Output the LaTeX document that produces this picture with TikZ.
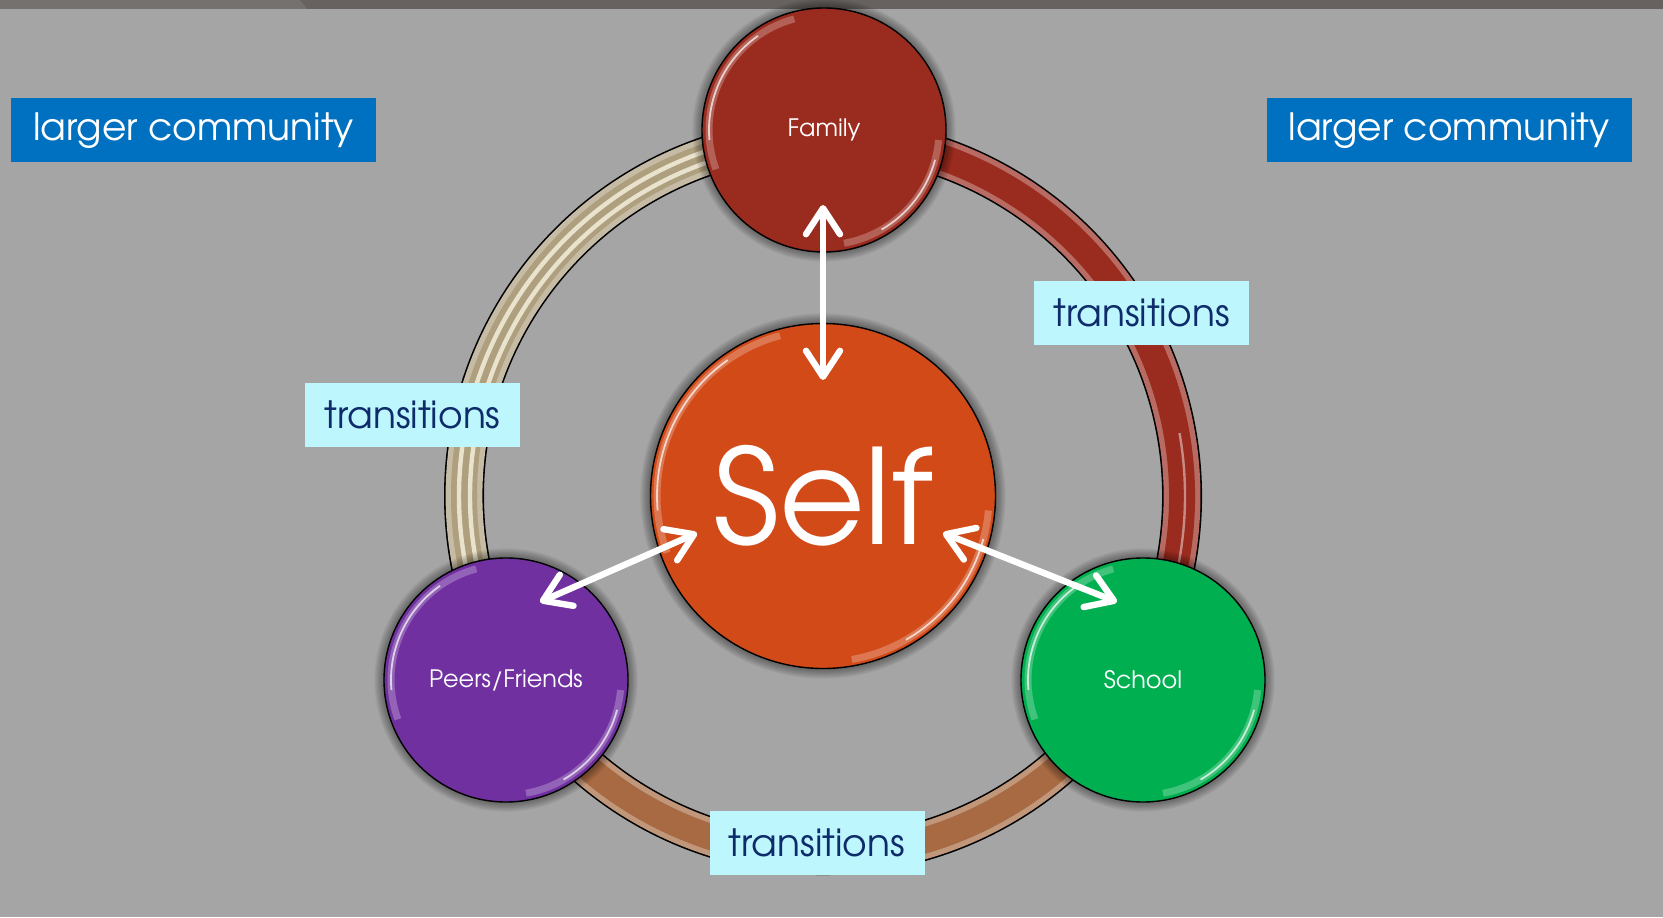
\documentclass[tikz,border=0pt]{standalone}
\usepackage{fontspec}
\setmainfont{TeX Gyre Adventor}
\usetikzlibrary{arrows.meta}
\definecolor{slate}{HTML}{A5A5A5}
\definecolor{bar}{HTML}{67625F}
\definecolor{barhi}{HTML}{75716F}
\definecolor{famred}{HTML}{9A2B1F}
\definecolor{selforange}{HTML}{D14A17}
\definecolor{peerpurple}{HTML}{7030A0}
\definecolor{schoolgreen}{HTML}{00B050}
\definecolor{tan}{HTML}{AE9F7E}
\definecolor{tanhi}{HTML}{E9E2CC}
\definecolor{copper}{HTML}{A76A43}
\definecolor{commblue}{HTML}{0070C0}
\definecolor{transcyan}{HTML}{BDF7FD}
\definecolor{navy}{HTML}{0F2C6A}
\tikzset{>={Straight Barb[length=13pt,width=17pt,round]},
  disc/.style={circle,draw=black,line width=.7pt,text=white,inner sep=0pt},
  hub/.style={disc,minimum size=122pt,font=\fontsize{12}{14}\selectfont},
  link/.style={<->,white,line width=3.2pt},
  community/.style={fill=commblue,text=white,minimum width=182.5pt,minimum height=32pt,font=\fontsize{18.8}{22}\selectfont},
  trans/.style={fill=transcyan,text=navy,minimum width=107.5pt,minimum height=32pt,font=\fontsize{18.8}{22}\selectfont}}
% soft dark halo under a disc
\newcommand{\halo}[2]{\foreach \k in {1,...,8}{\fill[black,opacity=.05] (#1) circle ({#2+\k*1.2});}}
% one segment of the ring, as a tube
\newcommand{\tube}[3]{%
  \draw[black,line width=20pt] (o) ++(#1:359) arc (#1:#2:359);
  \draw[#3!70!white,line width=18.4pt] (o) ++(#1:359) arc (#1:#2:359);
  \draw[#3,line width=13pt] (o) ++(#1:359) arc (#1:#2:359);}
% glossy rim highlights
\newcommand{\gloss}[2]{%
  \draw[white,opacity=.25,line width=3.5pt] (#1.center) ++(105:#2) arc (105:200:#2);
  \draw[white,opacity=.7,line width=.9pt] (#1.center) ++(125:#2) arc (125:185:#2);
  \draw[white,opacity=.25,line width=3.5pt] (#1.center) ++(-80:#2) arc (-80:-5:#2);
  \draw[white,opacity=.7,line width=.9pt] (#1.center) ++(-60:#2) arc (-60:-15:#2);}

\begin{document}
\begin{tikzpicture}[x=.5pt,y=.5pt]
\useasboundingbox (0,0) rectangle (1663,917);
\fill[slate] (0,0) rectangle (1663,917);
\fill[bar] (0,908) rectangle (1663,917);\fill[barhi] (0,908)--(307,908)--(300,917)--(0,917)--cycle;
\coordinate (o) at (823,421);\coordinate (f0) at (824,787);\coordinate (p0) at (506,237);\coordinate (s0) at (1143,237);
% ring
\tube{90}{210}{tan}\tube{-30}{90}{famred}\tube{210}{330}{copper}
\draw[tanhi,line width=2.2pt] (o) ++(90:353) arc (90:210:353);
\draw[tanhi,line width=2.2pt] (o) ++(90:364) arc (90:210:364);
\draw[white,opacity=.45,line width=1.2pt] (o) ++(-30:362) arc (-30:10:362);
% discs
\halo{o}{173}\halo{f0}{122}\halo{p0}{122}\halo{s0}{122}
\node[disc,fill=selforange,minimum size=172.5pt,font=\fontsize{66}{70}\selectfont] (self) at (o) {Self};
\node[hub,fill=famred] (family) at (f0) {Family};
\node[hub,fill=peerpurple] (peers) at (p0) {Peers/Friends};
\node[hub,fill=schoolgreen] (school) at (s0) {School};
\gloss{self}{83pt}\gloss{family}{57.5pt}\gloss{peers}{57.5pt}\gloss{school}{57.5pt}
% arrows
\coordinate (fam-tip) at (823,712);\coordinate (self-top) at (823,537);
\coordinate (peer-tip) at (540,315);\coordinate (self-left) at (697,384);
\coordinate (self-right) at (943,384);\coordinate (school-tip) at (1117,315);
\draw[link] (fam-tip)--(self-top);\draw[link] (peer-tip)--(self-left);\draw[link] (self-right)--(school-tip);
% labels
\node[community] (lc-left) at (193.5,786.5) {larger community};
\node[community] (lc-right) at (1449,786.5) {larger community};
\node[trans] (tr-right) at (1141.5,604) {transitions};
\node[trans] (tr-left) at (412.5,502) {transitions};
\node[trans] (tr-bottom) at (817,74.5) {transitions};
\end{tikzpicture}
\end{document}
